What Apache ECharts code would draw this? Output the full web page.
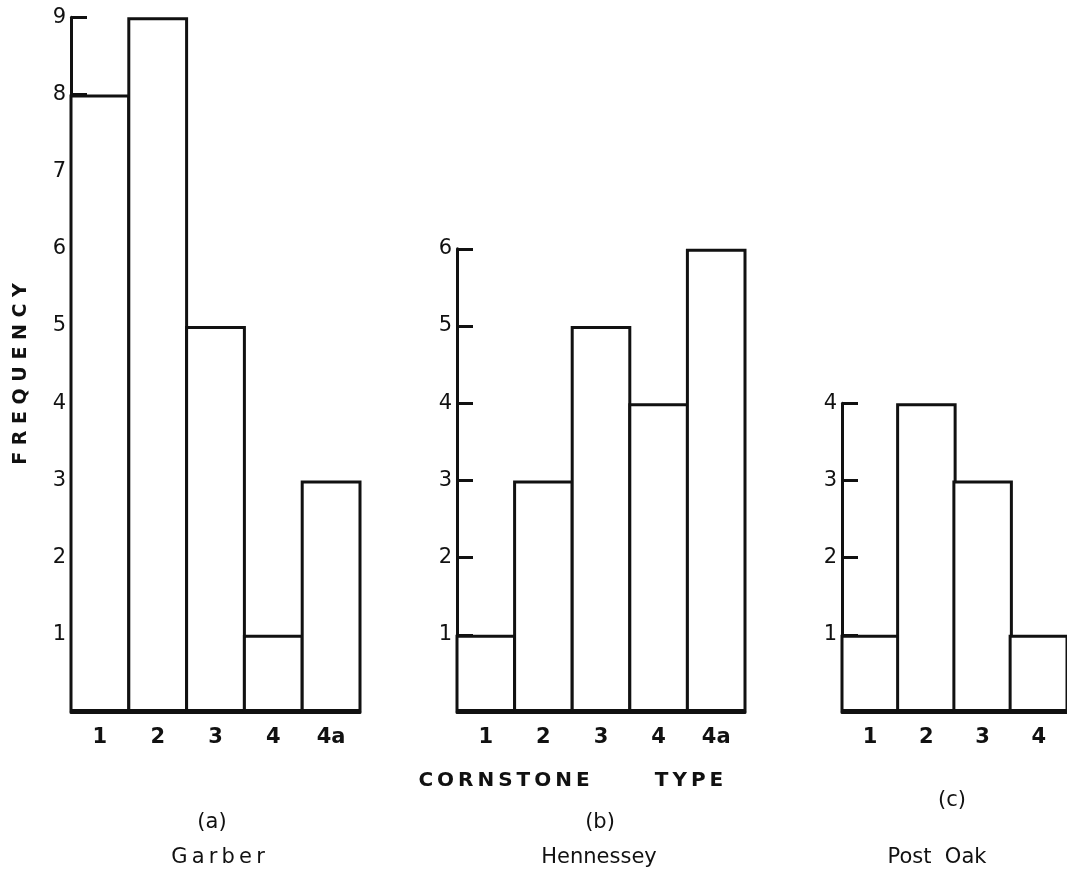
<!DOCTYPE html>
<html>
<head>
<meta charset="utf-8">
<script src="https://cdn.jsdelivr.net/npm/echarts@6/dist/echarts.min.js"></script>
<style>
html,body{margin:0;padding:0;background:#fff;}
#c{width:1067px;height:876px;}
</style>
</head>
<body>
<div id="c"></div>
<script>
// ---- data ----
const catsA = ['1', '2', '3', '4', '4a'];
const valsA = [8, 9, 5, 1, 3];
const catsB = ['1', '2', '3', '4', '4a'];
const valsB = [1, 3, 5, 4, 6];
const catsC = ['1', '2', '3', '4'];
const valsC = [1, 4, 3, 1];
const maxA = 9, maxB = 6, maxC = 4;
const panelLetters = ['(a)', '(b)', '(c)'];
const siteNames = ['Garber', 'Hennessey', 'Post  Oak'];
const yTitle = 'FREQUENCY';
const xTitleWords = ['CORNSTONE', 'TYPE'];

// ---- styling ----
const INK = '#111';
const FONT = 'DejaVu Sans';
const LW = 3;
const BASE = 712;      // baseline y
const UNIT = 77.2;     // px per unit

const spaced = (s, sep) => s.split('').join(sep);
const THIN = '\u2009';

const panels = [
  {left: 71, width: 289, cats: catsA, vals: valsA, max: maxA},
  {left: 457, width: 288, cats: catsB, vals: valsB, max: maxB},
  {left: 842, width: 230, cats: catsC, vals: valsC, max: maxC}
];

const grid = [], xAxis = [], yAxis = [], series = [];
panels.forEach((p, i) => {
  const h = p.max * UNIT;
  grid.push({left: p.left, top: BASE - h, width: p.width, height: h, containLabel: false});
  xAxis.push({
    type: 'category', gridIndex: i, data: p.cats, boundaryGap: true,
    axisLine: {show: true, lineStyle: {color: INK, width: LW}},
    axisTick: {show: false},
    axisLabel: {color: INK, fontFamily: FONT, fontWeight: 'bold', fontSize: 21, margin: 15},
    splitLine: {show: false}
  });
  yAxis.push({
    type: 'value', gridIndex: i, min: 0, max: p.max, interval: 1,
    axisLine: {show: true, onZero: false, lineStyle: {color: INK, width: LW}},
    axisTick: {show: true, inside: true, length: 16, lineStyle: {color: INK, width: LW}},
    axisLabel: {color: INK, fontFamily: FONT, fontSize: 21, margin: 5,
      formatter: v => (v === 0 ? '' : String(v))},
    splitLine: {show: false}
  });
  series.push({
    type: 'bar', xAxisIndex: i, yAxisIndex: i, data: p.vals,
    barWidth: p.width / p.cats.length + LW,
    itemStyle: {color: '#fff', borderColor: INK, borderWidth: LW},
    silent: true, animation: false, z: 1
  });
});

const txt = (x, y, text, size, weight, extra) => Object.assign({
  type: 'text', x: x, y: y,
  style: {text: text, fill: INK, font: (weight || 'normal') + ' ' + size + 'px "' + FONT + '"',
    textAlign: 'center', textVerticalAlign: 'middle'}
}, extra || {});

const graphic = [
  txt(21, 374, spaced(yTitle, ' '), 19, 'bold', {rotation: Math.PI / 2}),
  txt(504, 781, spaced(xTitleWords[0], THIN), 20, 'bold'),
  txt(689, 781, spaced(xTitleWords[1], THIN), 20, 'bold'),
  txt(212, 823, panelLetters[0], 21),
  txt(600, 823, panelLetters[1], 21),
  txt(952, 801, panelLetters[2], 21),
  txt(218, 858, spaced(siteNames[0], THIN), 21),
  txt(599, 858, siteNames[1], 21),
  txt(937, 858, siteNames[2], 21)
];

const chart = echarts.init(document.getElementById('c'), null, {renderer: 'canvas'});
chart.setOption({
  backgroundColor: '#fff',
  animation: false,
  grid: grid, xAxis: xAxis, yAxis: yAxis, series: series,
  graphic: graphic
});
</script>
</body>
</html>
